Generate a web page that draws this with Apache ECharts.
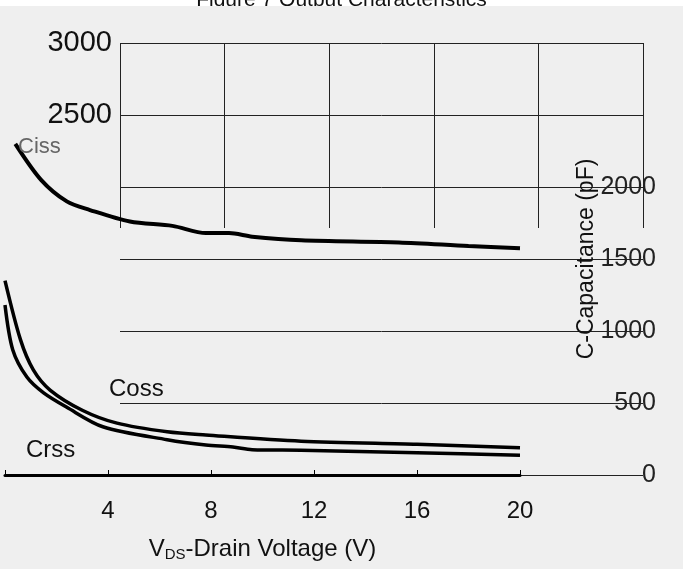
<!DOCTYPE html>
<html><head><meta charset="utf-8">
<script src="https://cdn.jsdelivr.net/npm/echarts@6/dist/echarts.min.js"></script>
<style>html,body{margin:0;padding:0;background:#fff}#c{width:683px;height:569px}</style>
</head><body><div id="c"></div>
<script>
const TITLE = 'Figure 7 Output Characteristics';
const xTicks = [0, 4, 8, 12, 16, 20];
const yTicks = [0, 500, 1000, 1500, 2000, 2500, 3000];
const cissV = [0.4, 1.4, 2.4, 3.3, 4.85, 6.5, 7.8, 8.7, 9.6, 11.5, 15.3, 18, 20];
const cissC = [2300, 2050, 1900, 1840, 1760, 1730, 1680, 1680, 1655, 1630, 1615, 1590, 1575];
const cossV = [0, 0.6, 1.1, 1.75, 3.0, 4.35, 6.3, 7.8, 11.5, 16, 20];
const cossC = [1350, 940, 730, 590, 450, 360, 300, 278, 235, 213, 190];
const crssV = [0, 0.3, 0.85, 1.5, 2.4, 3.8, 6.3, 7.8, 8.85, 9.6, 11.5, 16, 20];
const crssC = [1180, 870, 680, 570, 470, 335, 245, 208, 195, 176, 172, 155, 138];

const FONT = 'Liberation Sans, Arial, sans-serif';
const zip = (a, b) => a.map((v, i) => [v, b[i]]);
const chart = echarts.init(document.getElementById('c'));
const option = {
  backgroundColor: '#ffffff',
  animation: false,
  title: { text: TITLE, left: 'center', top: -15, z: 0,
    textStyle: { fontSize: 21, fontWeight: 'normal', color: '#111', fontFamily: FONT } },
  graphic: [
    { type: 'rect', z: 1, silent: true, shape: { x: 0, y: 6, width: 683, height: 563 }, style: { fill: '#efefef' } },
    { type: 'text', z: 50, left: 18, top: 136, style: { text: 'Ciss', fontSize: 22, fill: '#666', fontFamily: FONT } },
    { type: 'text', z: 50, left: 109, top: 377, style: { text: 'Coss', fontSize: 24, fill: '#111', fontFamily: FONT } },
    { type: 'text', z: 50, left: 26, top: 438, style: { text: 'Crss', fontSize: 24, fill: '#111', fontFamily: FONT } }
  ],
  grid: [
    { left: 120, right: 40, top: 43, bottom: 94 },
    { left: 120, right: 40, top: 43, height: 185 },
    { left: 5, right: 163, top: 43, bottom: 94 }
  ],
  xAxis: [
    { gridIndex: 0, type: 'value', min: 0, max: 5, interval: 1, z: 3, show: true,
      axisLine: { show: false }, axisTick: { show: false }, axisLabel: { show: false }, splitLine: { show: false } },
    { gridIndex: 1, type: 'value', min: 0, max: 5, interval: 1, z: 3,
      axisLine: { show: false }, axisTick: { show: false }, axisLabel: { show: false },
      splitLine: { show: true, lineStyle: { color: '#222', width: 1 } } },
    { gridIndex: 2, type: 'value', min: xTicks[0], max: xTicks[xTicks.length - 1], interval: 4, z: 3,
      axisLine: { show: true, onZero: false, lineStyle: { color: '#000', width: 3 } },
      axisTick: { show: true, inside: true, length: 5, lineStyle: { color: '#000', width: 1 } },
      axisLabel: { fontSize: 24, color: '#111', fontFamily: FONT, margin: 24,
        formatter: v => (v === 0 ? '' : String(v)) },
      splitLine: { show: false },
      name: '{a|V}{b|DS}{a|-Drain Voltage (V)}', nameLocation: 'middle', nameGap: 62,
      nameTextStyle: { rich: {
        a: { fontSize: 24, color: '#111', fontFamily: FONT },
        b: { fontSize: 15, color: '#111', fontFamily: FONT, padding: [10, 0, 0, 0] } } } }
  ],
  yAxis: [
    { gridIndex: 0, type: 'value', min: yTicks[0], max: yTicks[yTicks.length - 1], interval: 500, z: 3,
      axisLine: { show: false }, axisTick: { show: false },
      axisLabel: { fontSize: 29, color: '#111', fontFamily: FONT, margin: 8,
        formatter: v => (v >= 2500 ? String(v) : '') },
      splitLine: { show: true, lineStyle: { color: '#222', width: 1 } } },
    { gridIndex: 0, type: 'value', position: 'right', offset: 15, min: yTicks[0], max: yTicks[yTicks.length - 1], interval: 500, z: 3,
      axisLine: { show: false }, axisTick: { show: false }, splitLine: { show: false },
      axisLabel: { inside: true, fontSize: 25, color: '#222', fontFamily: FONT, margin: 2,
        formatter: v => (v <= 2000 ? String(v) : '') } },
    { gridIndex: 1, type: 'value', min: 0, max: 1, show: false },
    { gridIndex: 2, type: 'value', position: 'right', min: yTicks[0], max: yTicks[yTicks.length - 1], interval: 500, z: 3,
      axisLine: { show: false }, axisTick: { show: false }, axisLabel: { show: false }, splitLine: { show: false },
      name: 'C-Capacitance (pF)', nameLocation: 'middle', nameGap: 55, nameRotate: 90,
      nameTextStyle: { fontSize: 23, color: '#111', fontFamily: FONT } }
  ],
  series: [
    { name: 'Ciss', type: 'line', xAxisIndex: 2, yAxisIndex: 3, z: 4, data: zip(cissV, cissC),
      smooth: 0.3, symbol: 'none', clip: false, lineStyle: { color: '#000', width: 4 } },
    { name: 'Coss', type: 'line', xAxisIndex: 2, yAxisIndex: 3, z: 4, data: zip(cossV, cossC),
      smooth: 0.3, symbol: 'none', clip: false, lineStyle: { color: '#000', width: 3.5 } },
    { name: 'Crss', type: 'line', xAxisIndex: 2, yAxisIndex: 3, z: 4, data: zip(crssV, crssC),
      smooth: 0.3, symbol: 'none', clip: false, lineStyle: { color: '#000', width: 3.5 } }
  ]
};
chart.setOption(option);
</script></body></html>
